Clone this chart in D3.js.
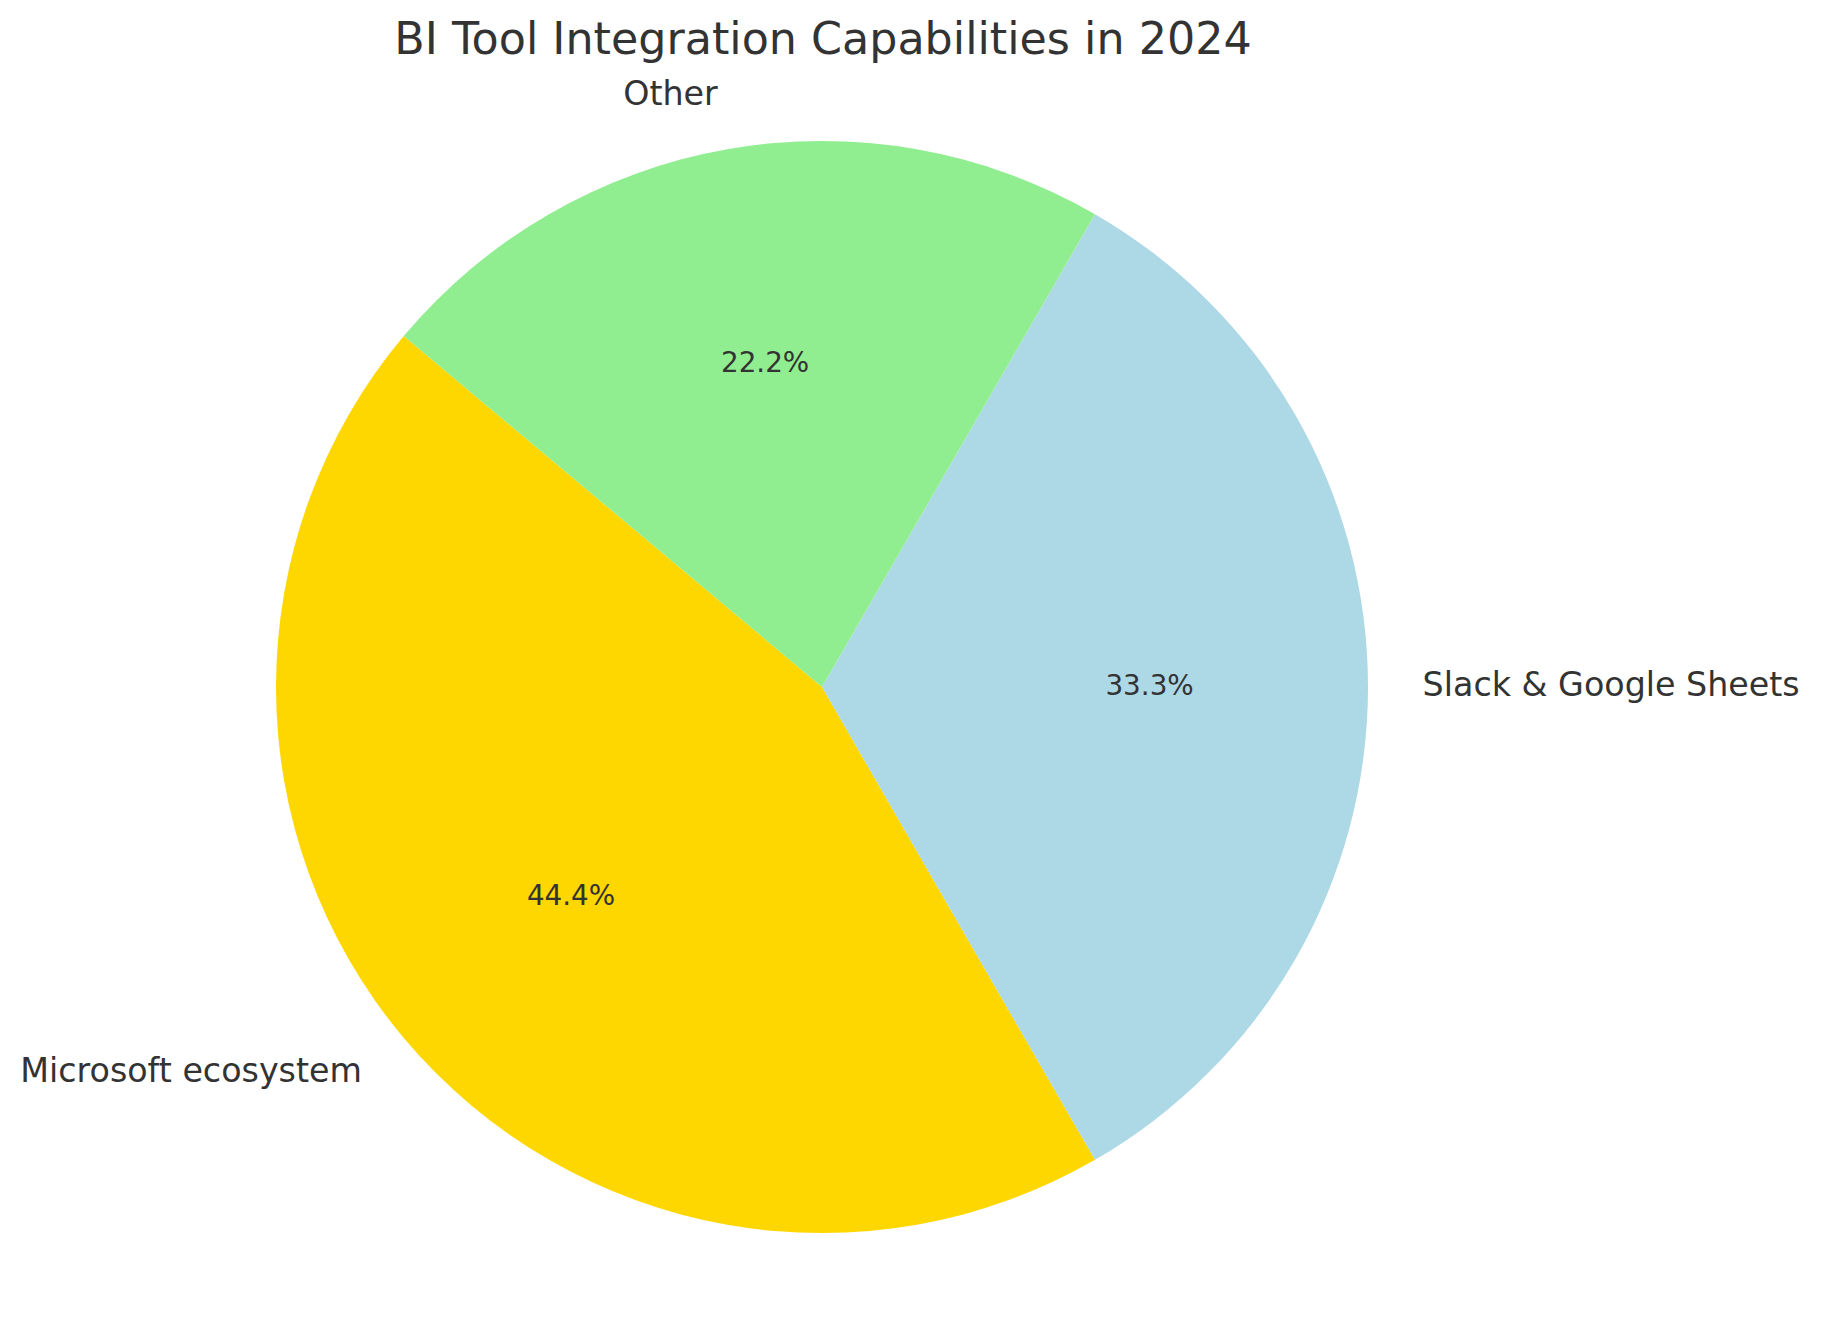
<!DOCTYPE html>
<html>
<head>
<meta charset="utf-8">
<script src="https://cdn.jsdelivr.net/npm/d3@7"></script>
<style>
  html, body { margin: 0; padding: 0; background: #ffffff; }
  svg { display: block; }
  text { font-family: "DejaVu Sans", sans-serif; fill: #333333; }
</style>
</head>
<body>
<div id="chart"></div>
<script>
// Data
const categories = ["Microsoft ecosystem", "Slack & Google Sheets", "Other"];
const values = [4, 3, 2];
const colors = ["#FFD700", "#ADD8E6", "#90EE90"];
const title = "BI Tool Integration Capabilities in 2024";

const W = 1821, H = 1322;
const cx = 822, cy = 687, r = 546;
const startAngleDeg = 140; // matplotlib-style start angle, counterclockwise

const svg = d3.select("#chart").append("svg")
  .attr("width", W).attr("height", H);

const total = d3.sum(values);

// matplotlib math angle (deg, CCW from +x) -> d3 angle (rad, CW from top)
const toD3 = deg => (90 - deg) * Math.PI / 180;

const pie = d3.pie().sort(null).value(d => d)
  .startAngle(toD3(startAngleDeg))
  .endAngle(toD3(startAngleDeg) - 2 * Math.PI);

const arcs = pie(values);
const arcGen = d3.arc().innerRadius(0).outerRadius(r);

const g = svg.append("g").attr("transform", `translate(${cx},${cy})`);

g.selectAll("path.slice").data(arcs).enter().append("path")
  .attr("class", "slice")
  .attr("d", arcGen)
  .attr("fill", (d, i) => colors[i])
  .attr("stroke", "none");

// Labels
arcs.forEach((d, i) => {
  const mid = (d.startAngle + d.endAngle) / 2; // d3 angle
  const sx = Math.sin(mid), sy = -Math.cos(mid);
  const lx = 1.1 * r * sx, ly = 1.1 * r * sy;
  const anchor = sx > 1e-6 ? "start" : (sx < -1e-6 ? "end" : "middle");
  g.append("text")
    .attr("x", lx).attr("y", ly)
    .attr("dy", "0.27em")
    .attr("text-anchor", anchor)
    .style("font-size", "33.3px")
    .text(categories[i]);
  const px = 0.6 * r * sx, py = 0.6 * r * sy;
  g.append("text")
    .attr("x", px).attr("y", py)
    .attr("dy", "0.27em")
    .attr("text-anchor", "middle")
    .style("font-size", "27.8px")
    .text((values[i] / total * 100).toFixed(1) + "%");
});

svg.append("text")
  .attr("x", cx + 1).attr("y", 54)
  .attr("text-anchor", "middle")
  .style("font-size", "44.4px")
  .text(title);
</script>
</body>
</html>
